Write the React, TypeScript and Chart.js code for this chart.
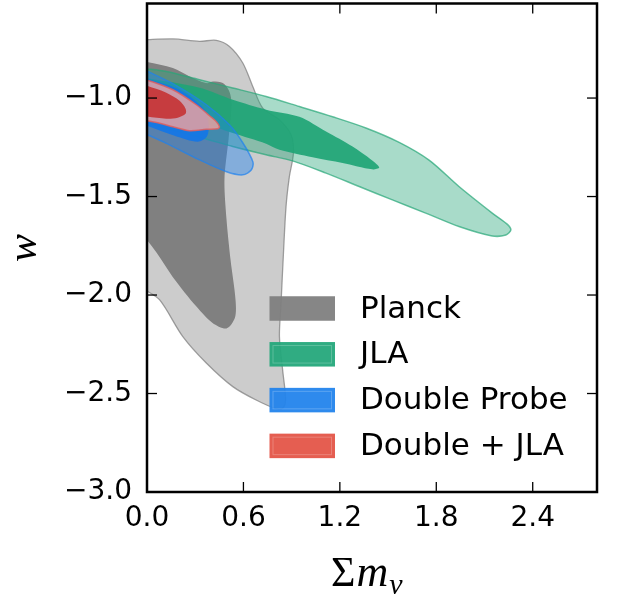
import React, { useEffect, useRef } from "react";
import { Chart, registerables } from "chart.js";

Chart.register(...registerables);

// ---- axes ----
const xTicks = [0.0, 0.6, 1.2, 1.8, 2.4];
const yTicks = [-3.0, -2.5, -2.0, -1.5, -1.0];
const xMin = 0.0;
const xMax = 2.8;
const yMin = -3.0;
const yMax = -0.52;

type P = [number, number];

// ---- contours (Σmν, w) ----
const planckOuter: P[] = [
  [-0.02, -0.704], [0.161, -0.700], [0.327, -0.712], [0.431, -0.707], [0.513, -0.738],
  [0.596, -0.822], [0.658, -0.941], [0.720, -1.051], [0.823, -1.110], [0.896, -1.186],
  [0.911, -1.279], [0.886, -1.398], [0.865, -1.551], [0.849, -1.788], [0.834, -2.042],
  [0.824, -2.211], [0.844, -2.381], [0.862, -2.530], [0.844, -2.575], [0.803, -2.577],
  [0.679, -2.533], [0.534, -2.465], [0.369, -2.345], [0.223, -2.211], [0.079, -2.025],
  [-0.02, -1.970],
];
const planckInner: P[] = [
  [-0.02, -0.814], [0.161, -0.848], [0.265, -0.890], [0.369, -0.924], [0.410, -0.916],
  [0.472, -0.924], [0.513, -0.968], [0.526, -1.034], [0.507, -1.212], [0.482, -1.415],
  [0.495, -1.618], [0.520, -1.822], [0.551, -2.025], [0.547, -2.116], [0.495, -2.170],
  [0.408, -2.142], [0.309, -2.060], [0.160, -1.908], [0.060, -1.786], [-0.02, -1.700],
];
const jlaOuter: P[] = [
  [-0.02, -0.850], [0.120, -0.865], [0.327, -0.907], [0.534, -0.949], [0.741, -0.992],
  [0.948, -1.043], [1.155, -1.095], [1.362, -1.152], [1.569, -1.225], [1.755, -1.315],
  [1.941, -1.449], [2.148, -1.584], [2.239, -1.639], [2.264, -1.669], [2.233, -1.695],
  [2.148, -1.700], [1.941, -1.652], [1.734, -1.584], [1.527, -1.517], [1.320, -1.449],
  [1.114, -1.381], [0.906, -1.319], [0.741, -1.288], [0.534, -1.246], [0.327, -1.199],
  [-0.02, -1.125],
];
const jlaInner: P[] = [
  [-0.02, -0.897], [0.327, -0.948], [0.534, -1.009], [0.741, -1.059], [0.948, -1.095],
  [1.114, -1.170], [1.279, -1.246], [1.395, -1.313], [1.445, -1.352], [1.401, -1.362],
  [1.217, -1.330], [1.030, -1.301], [0.824, -1.263], [0.741, -1.232], [0.534, -1.178],
  [0.327, -1.120], [-0.02, -1.048],
];
const doubleOuter: P[] = [
  [-0.02, -0.855], [0.161, -0.927], [0.369, -1.034], [0.513, -1.136], [0.596, -1.227],
  [0.659, -1.324], [0.650, -1.364], [0.596, -1.390], [0.495, -1.374], [0.327, -1.314],
  [0.120, -1.230], [-0.02, -1.178],
];
const doubleInner: P[] = [
  [-0.02, -0.897], [0.203, -0.958], [0.358, -1.059], [0.384, -1.136], [0.372, -1.197],
  [0.315, -1.222], [0.172, -1.191], [-0.02, -1.134],
];
const comboOuter: P[] = [
  [-0.02, -0.902], [0.161, -0.958], [0.307, -1.034], [0.389, -1.090], [0.433, -1.121],
  [0.451, -1.146], [0.439, -1.156], [0.369, -1.159], [0.265, -1.166], [0.161, -1.146],
  [0.079, -1.128], [-0.02, -1.112],
];
const comboInner: P[] = [
  [-0.02, -0.932], [0.120, -0.973], [0.203, -1.014], [0.240, -1.054], [0.240, -1.080],
  [0.191, -1.100], [0.120, -1.105], [-0.02, -1.092],
];

// ---- legend ----
const legendLabels = ["Planck", "JLA", "Double Probe", "Double + JLA"];
const legendColors = ["rgb(128,128,128)", "rgb(37,168,123)", "rgb(35,132,236)", "rgb(228,85,72)"];

// layer styling (drawn bottom -> top)
const layers = [
  { data: planckOuter, fill: "rgba(128,128,128,0.4)", border: "rgba(128,128,128,0.75)", bw: 1.3 },
  { data: planckInner, fill: "rgba(128,128,128,1)", border: "rgba(128,128,128,0)", bw: 0 },
  { data: jlaOuter, fill: "rgba(38,166,120,0.4)", border: "rgba(38,166,120,0.7)", bw: 1.5 },
  { data: jlaInner, fill: "rgba(32,165,118,0.92)", border: "rgba(32,165,118,0)", bw: 0 },
  { data: doubleOuter, fill: "rgba(30,130,240,0.42)", border: "rgba(30,130,240,0.7)", bw: 1.5 },
  { data: doubleInner, fill: "rgba(20,118,230,0.92)", border: "rgba(20,118,230,0)", bw: 0 },
  { data: comboOuter, fill: "rgba(232,160,160,0.85)", border: "rgba(225,95,95,0.85)", bw: 1.5 },
  { data: comboInner, fill: "rgba(198,56,58,0.96)", border: "rgba(198,56,58,0)", bw: 0 },
];

const fmt = (v: number) => (v < 0 ? "\u2212" : "") + Math.abs(v).toFixed(1);

const decorPlugin = {
  id: "decor",
  afterDatasetsDraw(chart: any) {
    const { ctx, chartArea: a, scales } = chart;
    ctx.save();
    ctx.strokeStyle = "#000";
    ctx.lineWidth = 1.3;
    const tl = 10;
    const seg = (x1: number, y1: number, x2: number, y2: number) => {
      ctx.beginPath();
      ctx.moveTo(x1, y1);
      ctx.lineTo(x2, y2);
      ctx.stroke();
    };
    for (const v of xTicks) {
      const px = scales.x.getPixelForValue(v);
      seg(px, a.bottom, px, a.bottom - tl);
      seg(px, a.top, px, a.top + tl);
    }
    for (const v of yTicks) {
      const py = scales.y.getPixelForValue(v);
      seg(a.left, py, a.left + tl, py);
      seg(a.right, py, a.right - tl, py);
    }
    ctx.lineWidth = 2.5;
    ctx.strokeRect(a.left, a.top, a.right - a.left, a.bottom - a.top);

    // legend
    const lx = 269.5;
    const lw = 65.5;
    const lh = 24.5;
    const ly0 = 308.5;
    const gap = 45.8;
    ctx.font = "31px 'DejaVu Sans'";
    ctx.textBaseline = "middle";
    ctx.textAlign = "left";
    legendLabels.forEach((lab, i) => {
      const cy = ly0 + i * gap;
      ctx.fillStyle = legendColors[i];
      ctx.globalAlpha = 0.95;
      ctx.fillRect(lx, cy - lh / 2, lw, lh);
      ctx.globalAlpha = 1;
      if (i > 0) {
        ctx.strokeStyle = "rgba(255,255,255,0.22)";
        ctx.lineWidth = 1;
        ctx.strokeRect(lx + 3.5, cy - lh / 2 + 3.5, lw - 7, lh - 7);
      }
      ctx.fillStyle = "#000";
      ctx.fillText(lab, 360, cy + 1);
    });

    // x title: Σ m_ν
    ctx.fillStyle = "#000";
    ctx.textBaseline = "alphabetic";
    ctx.font = "42px 'Liberation Serif'";
    ctx.fillText("\u03A3", 331, 586);
    const sw = ctx.measureText("\u03A3").width;
    ctx.font = "italic 44px 'Liberation Serif'";
    ctx.fillText("m", 331 + sw + 1, 586);
    const mw = ctx.measureText("m").width;
    ctx.font = "italic 30px 'Liberation Serif'";
    ctx.fillText("\u03BD", 331 + sw + 1 + mw + 1, 594);

    // y title: w
    ctx.save();
    ctx.translate(36, 248);
    ctx.rotate(-Math.PI / 2);
    ctx.font = "italic 42px 'Liberation Serif'";
    ctx.textAlign = "center";
    ctx.fillText("w", 0, 0);
    ctx.restore();

    ctx.restore();
  },
};

export default function App() {
  const ref = useRef<HTMLCanvasElement | null>(null);
  useEffect(() => {
    if (!ref.current) return;
    const n = layers.length;
    const chart = new Chart(ref.current, {
      type: "scatter",
      data: {
        datasets: layers.map((l, i) => ({
          label: "layer" + i,
          data: l.data.map(([x, y]) => ({ x, y })),
          showLine: true,
          fill: "shape",
          backgroundColor: l.fill,
          borderColor: l.border,
          borderWidth: l.bw,
          pointRadius: 0,
          pointHoverRadius: 0,
          tension: 0.3,
          order: n - i,
        })),
      },
      options: {
        animation: false,
        responsive: false,
        maintainAspectRatio: false,
        events: [],
        layout: { padding: { top: 3.5, right: 20, left: 0, bottom: 0 } },
        plugins: {
          legend: { display: false },
          tooltip: { enabled: false },
          filler: { propagate: false, drawTime: "beforeDatasetDraw" },
        },
        scales: {
          x: {
            type: "linear",
            min: xMin,
            max: xMax,
            grid: { display: false, drawTicks: false },
            border: { display: false },
            afterBuildTicks: (s: any) => {
              s.ticks = xTicks.map((v) => ({ value: v }));
            },
            afterFit: (s: any) => {
              s.height = 106;
              s.paddingLeft = 0;
              s.paddingRight = 0;
              s.paddingTop = 0;
              s.paddingBottom = 0;
            },
            ticks: {
              font: { family: "DejaVu Sans", size: 28 },
              color: "#000",
              padding: 10,
              maxRotation: 0,
              autoSkip: false,
              callback: (v: any) => fmt(Number(v)),
            },
          },
          y: {
            type: "linear",
            min: yMin,
            max: yMax,
            grid: { display: false, drawTicks: false },
            border: { display: false },
            afterBuildTicks: (s: any) => {
              s.ticks = yTicks.map((v) => ({ value: v }));
            },
            afterFit: (s: any) => {
              s.width = 147;
              s.paddingLeft = 0;
              s.paddingRight = 0;
              s.paddingTop = 0;
              s.paddingBottom = 0;
            },
            ticks: {
              font: { family: "DejaVu Sans", size: 28 },
              color: "#000",
              padding: 15,
              autoSkip: false,
              callback: (v: any) => fmt(Number(v)),
            },
          },
        },
      },
      plugins: [decorPlugin],
    } as any);
    return () => chart.destroy();
  }, []);
  return (
    <div style={{ position: "absolute", left: 0, top: 0, width: 617, height: 598, background: "#fff" }}>
      <canvas ref={ref} width={617} height={598} style={{ display: "block" }} />
    </div>
  );
}
